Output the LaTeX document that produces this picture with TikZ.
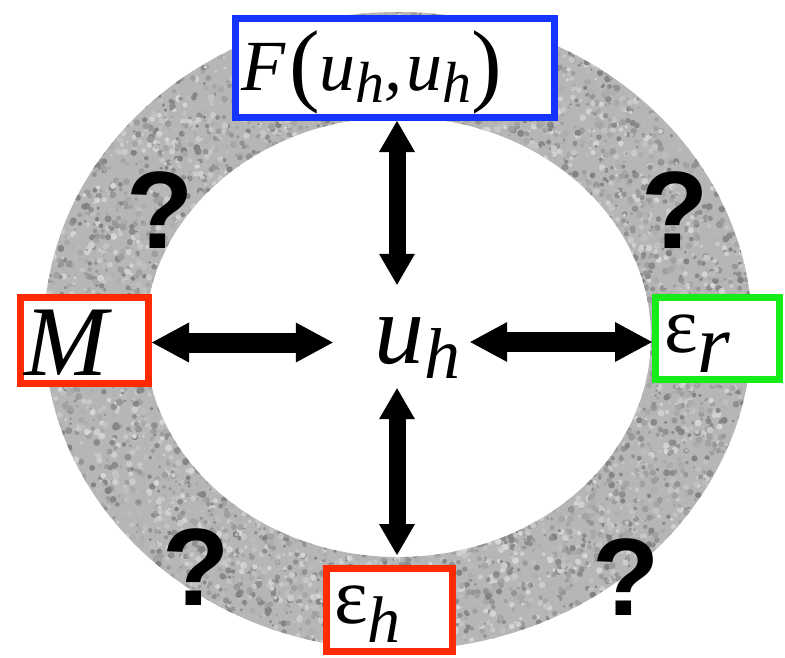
\documentclass[tikz,border=0pt]{standalone}
\usepackage{fontspec}
\setmainfont{Liberation Serif}
\newfontfamily\qfont{Liberation Sans}
\usetikzlibrary{arrows.meta,calc}
\definecolor{boxblue}{RGB}{22,52,255}
\definecolor{boxred}{RGB}{255,42,0}
\definecolor{boxgreen}{RGB}{24,236,24}
\definecolor{ringgray}{RGB}{182,182,182}
\newcommand\sbx[3]{\raisebox{-#2}{\fontsize{#1}{#1}\selectfont\itshape #3}}
\newcommand\bigpar[1]{\raisebox{-4pt}{\fontsize{92pt}{92pt}\selectfont\upshape #1}}
\tikzset{
  box/.style={draw, line width=7pt, fill=white, inner sep=0pt},
  lbl/.style={anchor=base west, inner sep=0pt},
  qmark/.style={inner sep=0pt, font=\qfont\bfseries\fontsize{110pt}{110pt}\selectfont},
  harrow/.style={line width=20pt, {Triangle[length=37pt,width=40pt,line width=0pt]}-{Triangle[length=37pt,width=40pt,line width=0pt]}},
  varrow/.style={line width=17pt, {Triangle[length=31pt,width=36pt,line width=0pt]}-{Triangle[length=31pt,width=36pt,line width=0pt]}},
}
\begin{document}
\begin{tikzpicture}[x=1pt,y=-1pt]
\useasboundingbox (0,0) rectangle (785,657);
% textured ring
\begin{scope}[even odd rule]
  \clip (398,331) ellipse [x radius=354, y radius=319]
        (398,337) ellipse [x radius=253, y radius=220];
  \fill[ringgray] (0,0) rectangle (785,657);
  \pgfmathsetseed{11}
  \foreach \i in {1,...,5000} {
    \pgfmathsetmacro\ang{rnd*360}
    \pgfmathsetmacro\t{rnd*1.04-0.02}
    \pgfmathsetmacro\px{398+(253+101*\t)*cos(\ang)}
    \pgfmathsetmacro\py{337-6*\t+(220+99*\t)*sin(\ang)}
    \pgfmathsetmacro\rr{1.3+rnd*2.3}
    \pgfmathsetmacro\sh{int(16+rnd*34)}
    \fill[black!\sh] (\px,\py) circle [radius=\rr];
  }
\end{scope}
% boxes
\node[box, draw=boxblue, minimum width=319pt, minimum height=99pt] (F) at (395,68) {};
\node[box, draw=boxred, minimum width=128pt, minimum height=86pt] (M) at (84.5,340.5) {};
\node[box, draw=boxgreen, minimum width=124pt, minimum height=82pt] (er) at (717.5,338.5) {};
\node[box, draw=boxred, minimum width=126pt, minimum height=83pt] (eh) at (389.5,610) {};
% labels
\node[lbl, font=\fontsize{72pt}{72pt}\selectfont\itshape] (Flbl) at (241,90)
  {F\kern4pt\bigpar{(}u\sbx{58pt}{12pt}{h},\kern4pt u\sbx{58pt}{12pt}{h}\bigpar{)}};
\node[lbl, font=\fontsize{100pt}{100pt}\selectfont\itshape] (Mlbl) at (24,375) {M};
\node[lbl, font=\fontsize{80pt}{80pt}\selectfont] (erlbl) at (664,352) {ε\sbx{84pt}{20pt}{r}};
\node[lbl, font=\fontsize{80pt}{80pt}\selectfont] (ehlbl) at (334,623) {ε\sbx{66pt}{19pt}{h}};
\node[lbl, font=\fontsize{100pt}{100pt}\selectfont\itshape] (uhlbl) at (374,363) {u\sbx{72pt}{15pt}{h}};
% question marks
\node[qmark] (q1) at (160,210) {?};
\node[qmark] (q2) at (675,210) {?};
\node[qmark] (q3) at (196,567) {?};
\node[qmark] (q4) at (626,577) {?};
% connectors
\node[inner sep=0pt, minimum width=137pt, minimum height=103pt] (uh) at (401.5,336.5) {};
\coordinate (vx) at (397,0);
\draw[varrow] (F.south -| vx) -- (uh.north -| vx);
\draw[varrow] (uh.south -| vx) -- ([yshift=10pt]eh.north -| vx);
\draw[harrow] ([yshift=-2pt]M.east) -- ([yshift=-2pt]M.east -| uh.west);
\draw[harrow] ([yshift=-3.5pt]er.west -| uh.east) -- ([yshift=-3.5pt]er.west);
\end{tikzpicture}
\end{document}
